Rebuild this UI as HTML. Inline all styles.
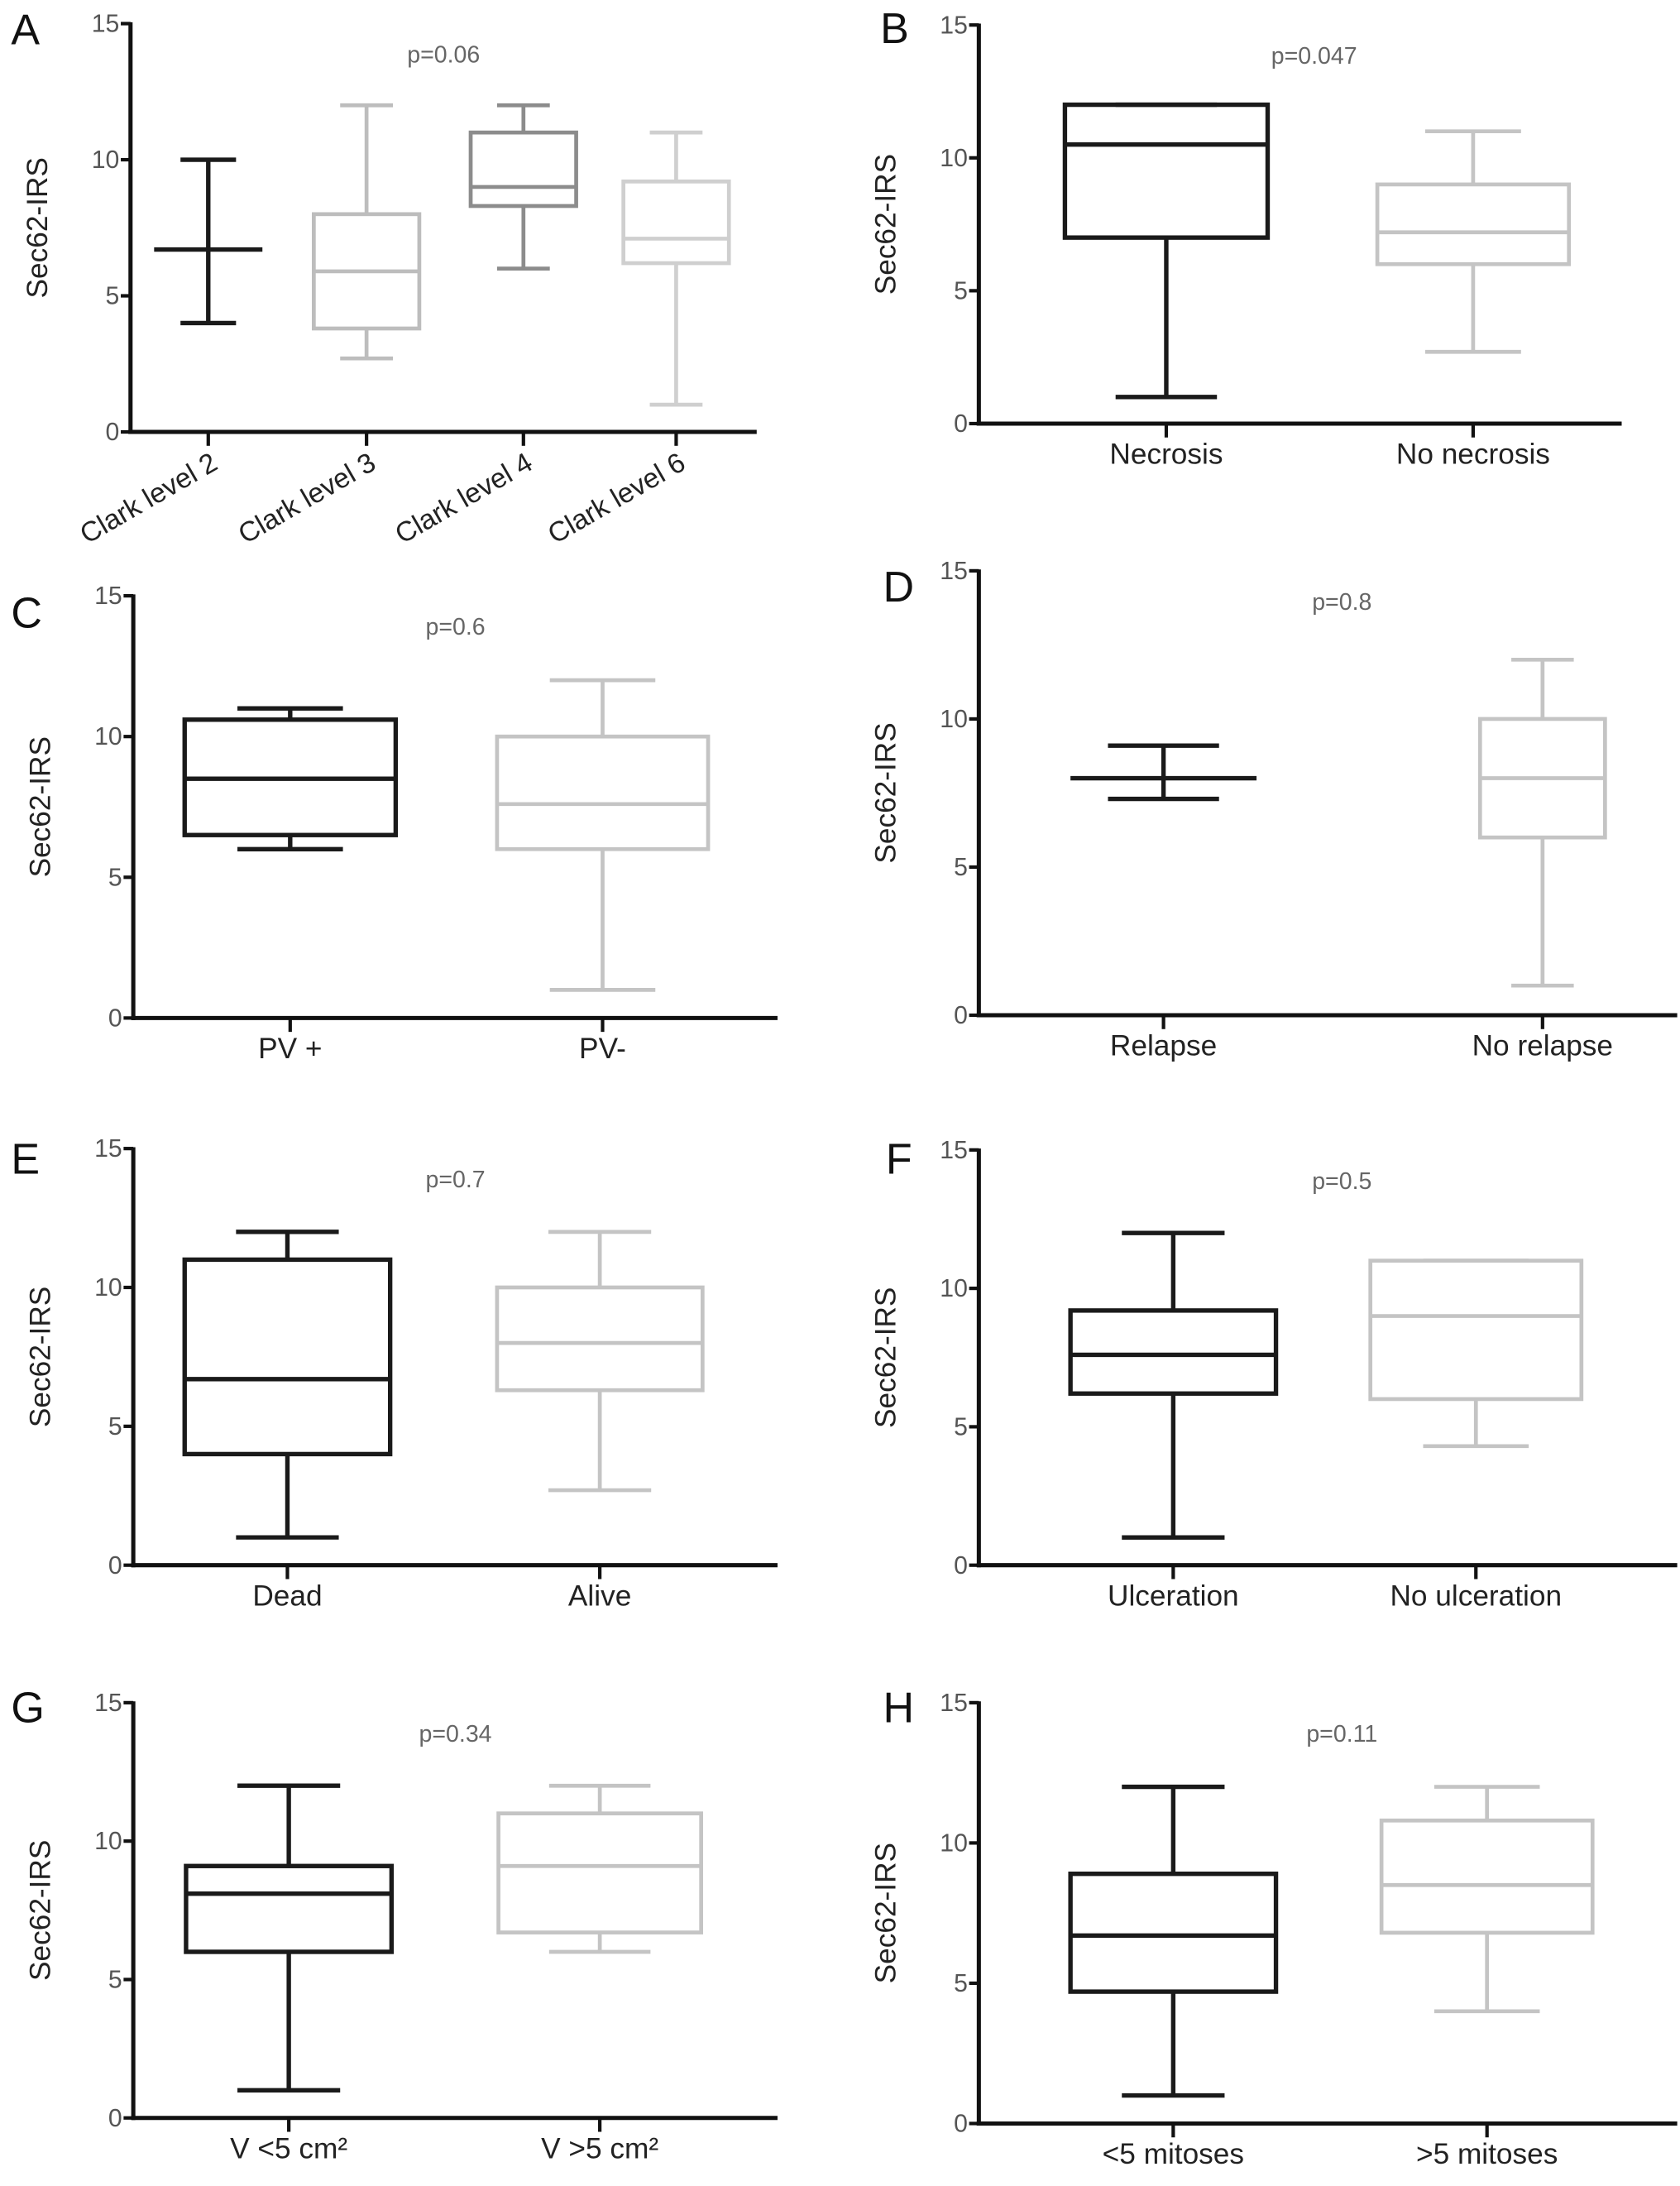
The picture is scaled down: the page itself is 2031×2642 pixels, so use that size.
<!DOCTYPE html>
<html><head><meta charset="utf-8">
<style>
html,body{margin:0;padding:0;background:#fff;}
svg{display:block;}
text{font-family:"Liberation Sans",sans-serif;}
</style></head>
<body>
<svg id="fig" width="2031" height="2642" viewBox="0 0 1210 1574" xmlns="http://www.w3.org/2000/svg"></svg>
<script>
// ---- data (Sec62-IRS box plots) ----
const panelLetters = ["A","B","C","D","E","F","G","H"];
const pValues = ["p=0.06","p=0.047","p=0.6","p=0.8","p=0.7","p=0.5","p=0.34","p=0.11"];
const catsA = ["Clark level 2","Clark level 3","Clark level 4","Clark level 6"];
const catsB = ["Necrosis","No necrosis"];
const catsC = ["PV +","PV-"];
const catsD = ["Relapse","No relapse"];
const catsE = ["Dead","Alive"];
const catsF = ["Ulceration","No ulceration"];
const catsG = ["V <5 cm²","V >5 cm²"];
const catsH = ["<5 mitoses",">5 mitoses"];
// [min, q1, median, q3, max]; null q1/q3 => mean line only
const statsA = [[4,null,6.7,null,10],[2.7,3.8,5.9,8,12],[6,8.3,9,11,12],[1,6.2,7.1,9.2,11]];
const statsB = [[1,7,10.5,12,12],[2.7,6,7.2,9,11]];
const statsC = [[6,6.5,8.5,10.6,11],[1,6,7.6,10,12]];
const statsD = [[7.3,null,8,null,9.1],[1,6,8,10,12]];
const statsE = [[1,4,6.7,11,12],[2.7,6.3,8,10,12]];
const statsF = [[1,6.2,7.6,9.2,12],[4.3,6,9,11,11]];
const statsG = [[1,6,8.1,9.1,12],[6,6.7,9.1,11,12]];
const statsH = [[1,4.7,6.7,8.9,12],[4,6.8,8.5,10.8,12]];
const yTicks = [0,5,10,15];
const yTickLabels = ["0","5","10","15"];

// ---- layout (display coords) ----
const layout = [
 {ax:94,y0:311,y15:17,xEnd:545,tx:[150,264,377,487],hw:[39,38,38,38],cap:20,colors:["#1a1a1a","#bdbdbd","#8c8c8c","#cfcfcf"],lx:8,ly:32,rot:true},
 {ax:705,y0:305,y15:18,xEnd:1168,tx:[840,1061],hw:[73,69],colors:["#1a1a1a","#c4c4c4"],lx:634,ly:31},
 {ax:96,y0:733,y15:429,xEnd:560,tx:[209,434],hw:[76,76],colors:["#1a1a1a","#c4c4c4"],lx:8,ly:452},
 {ax:705,y0:731,y15:411,xEnd:1208,tx:[838,1111],hw:[67,45],cap:40,colors:["#1a1a1a","#c4c4c4"],lx:636,ly:433},
 {ax:96,y0:1127,y15:827,xEnd:560,tx:[207,432],hw:[74,74],colors:["#1a1a1a","#c4c4c4"],lx:8,ly:845},
 {ax:705,y0:1127,y15:828,xEnd:1208,tx:[845,1063],hw:[74,76],colors:["#1a1a1a","#c4c4c4"],lx:638,ly:845},
 {ax:96,y0:1525,y15:1226,xEnd:560,tx:[208,432],hw:[74,73],colors:["#1a1a1a","#c4c4c4"],lx:8,ly:1240},
 {ax:705,y0:1529,y15:1226,xEnd:1208,tx:[845,1071],hw:[74,76],colors:["#1a1a1a","#c4c4c4"],lx:636,ly:1240}
];
const allCats = [catsA,catsB,catsC,catsD,catsE,catsF,catsG,catsH];
const allStats = [statsA,statsB,statsC,statsD,statsE,statsF,statsG,statsH];

const NS = "http://www.w3.org/2000/svg";
const svg = document.getElementById("fig");
function mk(tag, attrs, parent){
  const e = document.createElementNS(NS, tag);
  for (const k in attrs) e.setAttribute(k, attrs[k]);
  (parent||svg).appendChild(e);
  return e;
}
function line(g,x1,y1,x2,y2,c,w){ return mk("line",{x1:x1,y1:y1,x2:x2,y2:y2,stroke:c,"stroke-width":w,"stroke-linecap":"butt"},g); }

layout.forEach((L,pi)=>{
  const cats = allCats[pi], stats = allStats[pi];
  const yS = v => L.y0 - (v/15)*(L.y0-L.y15);
  const g = mk("g",{});
  
  

  const lt = mk("text",{x:L.lx,y:L.ly,"font-size":31,fill:"#111"},g);
  lt.textContent = panelLetters[pi];
  
  

  const ya = line(g,L.ax,L.y15-1,L.ax,L.y0+1.5,"#111",3);
  
  
  yTicks.forEach((t,i)=>{
    const y = yS(t);
    line(g,L.ax-7,y,L.ax,y,"#111",2.5);
    const tl = mk("text",{x:L.ax-8,y:y+6,"font-size":18,fill:"#555","text-anchor":"end"},g);
    tl.textContent = yTickLabels[i];
    
    
  });
  const midY = (L.y0+L.y15)/2;
  const yt = mk("text",{x:0,y:0,"font-size":21,fill:"#222","text-anchor":"middle",transform:`translate(${L.ax-60},${midY}) rotate(-90)`},g);
  yt.textContent = "Sec62-IRS";
  
  

  const xa = line(g,L.ax-1.5,L.y0,L.xEnd,L.y0,"#111",3);
  
  

  const pt = mk("text",{x:(L.ax+L.xEnd)/2+(pi%2?10:0),y:L.y15+28,"font-size":17,fill:"#666","text-anchor":"middle"},g);
  pt.textContent = pValues[pi];
  
  

  cats.forEach((c,ci)=>{
    const x = L.tx[ci], s = stats[ci], col = L.colors[ci];
    const bw = (col==="#1a1a1a")?3.2:2.8;
    line(g,x,L.y0,x,L.y0+10,"#111",2.5);
    let lab;
    if (L.rot){
      lab = mk("text",{x:0,y:0,"font-size":20,fill:"#222","text-anchor":"end",transform:`translate(${x+8},${L.y0+26}) rotate(-30)`},g);
    } else {
      lab = mk("text",{x:x,y:L.y0+29,"font-size":21,fill:"#222","text-anchor":"middle"},g);
    }
    lab.textContent = c;
    
    

    const bg = mk("g",{},g);
    
    
    const [mn,q1,md,q3,mx] = s;
    if (q1===null){
      const capW = L.cap, meanW = L.hw[ci];
      line(bg,x,yS(mn),x,yS(mx),col,bw);
      line(bg,x-capW,yS(mn),x+capW,yS(mn),col,bw);
      line(bg,x-capW,yS(mx),x+capW,yS(mx),col,bw);
      line(bg,x-meanW,yS(md),x+meanW,yS(md),col,bw);
    } else {
      const hw = L.hw[ci], cw = hw*0.5;
      line(bg,x,yS(mn),x,yS(q1),col,bw);
      line(bg,x,yS(q3),x,yS(mx),col,bw);
      line(bg,x-cw,yS(mn),x+cw,yS(mn),col,bw);
      line(bg,x-cw,yS(mx),x+cw,yS(mx),col,bw);
      mk("rect",{x:x-hw,y:yS(q3),width:2*hw,height:yS(q1)-yS(q3),fill:"none",stroke:col,"stroke-width":bw},bg);
      line(bg,x-hw,yS(md),x+hw,yS(md),col,bw);
    }
  });
});
</script>
</body></html>
